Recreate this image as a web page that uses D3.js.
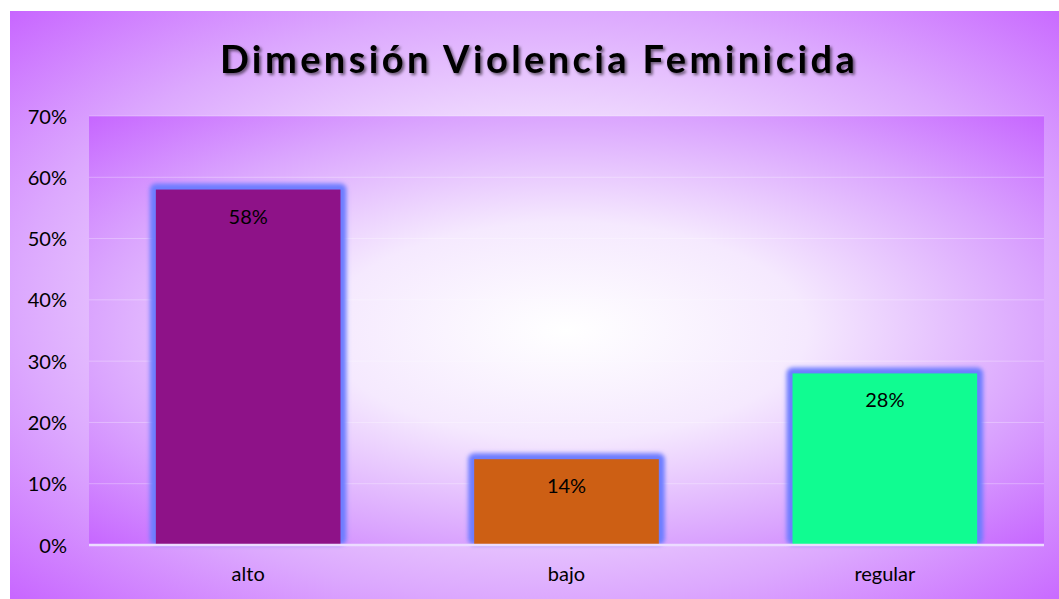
<!DOCTYPE html>
<html>
<head>
<meta charset="utf-8">
<script src="https://cdn.jsdelivr.net/npm/d3@7"></script>
<style>
  body { margin: 0; background: #ffffff; }
  text { font-family: Lato, "Open Sans", sans-serif; }
</style>
</head>
<body>
<div id="chart"></div>
<script>
// data
var categories = ["alto", "bajo", "regular"];
var values = [0.58, 0.14, 0.28];
var barColors = ["#8e1288", "#cd5f14", "#10fc91"];
var yTicks = [0, 0.1, 0.2, 0.3, 0.4, 0.5, 0.6, 0.7];
var title = "Dimensión Violencia Feminicida";

var W = 1059, H = 599;
var margin = { top: 116, right: 15, bottom: 54, left: 89 };

var width = W - margin.left - margin.right,
    height = H - margin.top - margin.bottom;

var svg = d3.select("#chart").append("svg")
    .attr("width", W)
    .attr("height", H);

var defs = svg.append("defs");

// background gradient, white in the middle and purple at the edges
var bg = defs.append("radialGradient")
    .attr("id", "bgGrad")
    .attr("cx", "0.51").attr("cy", "0.5").attr("r", "0.72");
bg.append("stop").attr("offset", "0%").attr("stop-color", "#ffffff");
bg.append("stop").attr("offset", "35%").attr("stop-color", "#f5e9fe");
bg.append("stop").attr("offset", "70%").attr("stop-color", "#dca8fe");
bg.append("stop").attr("offset", "100%").attr("stop-color", "#c764ff");

var pg = defs.append("radialGradient")
    .attr("id", "plotGrad")
    .attr("cx", "0.5").attr("cy", "0.5").attr("r", "0.72");
pg.append("stop").attr("offset", "0%").attr("stop-color", "#ffffff");
pg.append("stop").attr("offset", "35%").attr("stop-color", "#f5e9fe");
pg.append("stop").attr("offset", "70%").attr("stop-color", "#daa4fe");
pg.append("stop").attr("offset", "100%").attr("stop-color", "#c562ff");

var glow = defs.append("filter")
    .attr("id", "glow")
    .attr("x", "-20%").attr("y", "-20%").attr("width", "140%").attr("height", "140%");
glow.append("feGaussianBlur").attr("stdDeviation", 2);

var shadow = defs.append("filter")
    .attr("id", "titleShadow")
    .attr("x", "-10%").attr("y", "-30%").attr("width", "120%").attr("height", "160%");
shadow.append("feDropShadow")
    .attr("dx", 2).attr("dy", 2).attr("stdDeviation", 1.6)
    .attr("flood-color", "#000000").attr("flood-opacity", 0.55);

svg.append("rect")
    .attr("x", 10).attr("y", 11)
    .attr("width", W - 10).attr("height", H - 11)
    .attr("fill", "url(#bgGrad)");

var g = svg.append("g")
    .attr("transform", "translate(" + margin.left + "," + margin.top + ")");

g.append("rect")
    .attr("width", width).attr("height", height)
    .attr("fill", "url(#plotGrad)");

var x = d3.scaleBand()
    .domain(categories)
    .range([0, width])
    .paddingInner(0.42)
    .paddingOuter(0.21);

var y = d3.scaleLinear()
    .domain([0, 0.7])
    .range([height, 0]);

// gridlines
g.selectAll(".grid")
    .data(yTicks.slice(1))
    .enter().append("line")
    .attr("x1", 0).attr("x2", width)
    .attr("y1", function(d) { return y(d); })
    .attr("y2", function(d) { return y(d); })
    .attr("stroke", "#ffffff")
    .attr("stroke-opacity", 0.3)
    .attr("stroke-width", 1);

// y axis labels
var yAxis = d3.axisLeft(y)
    .tickValues(yTicks)
    .tickFormat(d3.format(".0%"))
    .tickSize(0)
    .tickPadding(22);

g.append("g")
    .call(yAxis)
    .call(function(a) { a.select(".domain").remove(); })
    .selectAll("text")
    .attr("font-size", 20)
    .attr("fill", "#000000")
    .attr("dy", "0.35em");

// bar glow
g.selectAll(".barGlow")
    .data(values)
    .enter().append("rect")
    .attr("x", function(d, i) { return x(categories[i]) - 6; })
    .attr("y", function(d) { return y(d) - 6; })
    .attr("width", x.bandwidth() + 12)
    .attr("height", function(d) { return height - y(d) + 6; })
    .attr("rx", 6)
    .attr("fill", "#6d7dff")
    .attr("filter", "url(#glow)");

g.selectAll(".bar")
    .data(values)
    .enter().append("rect")
    .attr("x", function(d, i) { return x(categories[i]); })
    .attr("y", function(d) { return y(d); })
    .attr("width", x.bandwidth())
    .attr("height", function(d) { return height - y(d); })
    .attr("fill", function(d, i) { return barColors[i]; });

// value labels
g.selectAll(".label")
    .data(values)
    .enter().append("text")
    .attr("x", function(d, i) { return x(categories[i]) + x.bandwidth() / 2; })
    .attr("y", function(d) { return y(d) + 34; })
    .attr("text-anchor", "middle")
    .attr("font-size", 20)
    .attr("fill", "#000000")
    .text(function(d) { return d3.format(".0%")(d); });

// baseline
g.append("line")
    .attr("x1", 0).attr("x2", width)
    .attr("y1", height).attr("y2", height)
    .attr("stroke", "#ecdcff")
    .attr("stroke-width", 2.5);

// x axis labels
var xAxis = d3.axisBottom(x).tickSize(0).tickPadding(22);
g.append("g")
    .attr("transform", "translate(0," + height + ")")
    .call(xAxis)
    .call(function(a) { a.select(".domain").remove(); })
    .selectAll("text")
    .attr("font-size", 20)
    .attr("fill", "#000000");

svg.append("text")
    .attr("x", 539)
    .attr("y", 73)
    .attr("text-anchor", "middle")
    .attr("font-size", 38)
    .attr("font-weight", "bold")
    .attr("letter-spacing", 3.4)
    .attr("fill", "#000000")
    .attr("filter", "url(#titleShadow)")
    .text(title);
</script>
</body>
</html>
